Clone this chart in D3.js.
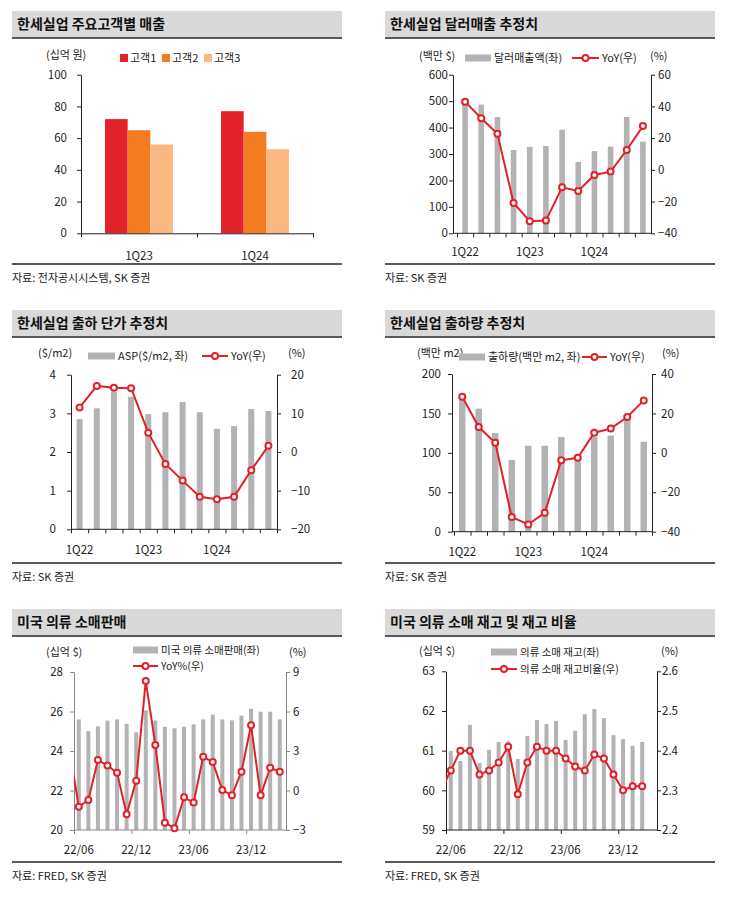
<!DOCTYPE html>
<html>
<head>
<meta charset="utf-8">
<script src="https://cdn.jsdelivr.net/npm/d3@7"></script>
<style>
body { margin: 0; background: #fff; }
svg text { font-family: "Noto Sans CJK KR", "Noto Sans", sans-serif; font-size: 11.5px; fill: #222; }
</style>
</head>
<body>
<script>
// ---- data ----
var clientCats = ["1Q23", "1Q24"];
var clientNames = ["고객1", "고객2", "고객3"];
var client1 = [72, 77];
var client2 = [65, 64];
var client3 = [56, 53];

var quarters = ["1Q22","2Q22","3Q22","4Q22","1Q23","2Q23","3Q23","4Q23","1Q24","2Q24","3Q24","4Q24"];

var dollarSales = [500, 487, 440, 315, 327, 330, 392, 270, 311, 328, 440, 347];
var dollarYoY = [43, 32.5, 22.8, -20.9, -32.4, -32, -11, -13.3, -3.2, -1.1, 12.5, 27.6];

var asp = [2.85, 3.13, 3.56, 3.43, 2.98, 3.03, 3.29, 3.03, 2.60, 2.67, 3.11, 3.06];
var aspYoY = [11.5, 17.1, 16.6, 16.5, 5, -3.1, -7.4, -11.6, -12.2, -11.6, -4.7, 1.6];

var shipments = [171, 156, 125, 91, 109, 109, 120, 90, 120, 122, 145, 114];
var shipYoY = [28.5, 13.1, 5.1, -32.6, -36.3, -30.4, -3.8, -2.5, 10.2, 12.3, 18.2, 26.6];

var months = ["22/06","22/07","22/08","22/09","22/10","22/11","22/12","23/01","23/02","23/03","23/04",
              "23/05","23/06","23/07","23/08","23/09","23/10","23/11","23/12","24/01","24/02","24/03"];

var apparelSales = [25.6, 25.01, 25.25, 25.54, 25.6, 25.38, 24.95, 26.06, 25.54, 25.23, 25.15,
                    25.23, 25.35, 25.6, 25.84, 25.6, 25.55, 25.79, 26.14, 25.99, 25.99, 25.6];
var apparelYoY = [-1.23, -0.72, 2.32, 1.89, 1.35, -1.81, 0.75, 8.32, 3.46, -2.44, -2.87,
                  -0.52, -0.92, 2.57, 2.16, 0.04, -0.37, 1.43, 4.95, -0.37, 1.73, 1.43];
var apparelYoYMay22 = 3.2;

var inventory = [60.99, 60.74, 61.65, 60.69, 61.02, 61.22, 61.24, 60.79, 61.37, 61.77, 61.67,
                 61.75, 61.27, 61.5, 61.92, 62.05, 61.82, 61.39, 61.29, 61.12, 61.22];
var invRatio = [2.35, 2.40, 2.40, 2.34, 2.35, 2.37, 2.41, 2.29, 2.37, 2.41, 2.40,
                2.40, 2.38, 2.36, 2.35, 2.39, 2.38, 2.34, 2.30, 2.31, 2.31];
var invRatioMay22 = 2.30;

var RED = "#e3202a", GREY = "#b3b3b3";
var clientColors = ["#e3232c", "#f37b20", "#fbb880"];

var svg = d3.select("body").append("svg")
    .attr("width", 743)
    .attr("height", 897);

// title bar, rules, source line
function frame(x0, x1, y0, title, source, bottom) {
  svg.append("rect").attr("x", x0).attr("y", y0).attr("width", x1 - x0).attr("height", 26)
    .attr("fill", "#d9d9d9");
  svg.append("text").attr("x", x0 + 5).attr("y", y0 + 13).attr("dy", "0.35em")
    .style("font-size", "14px").style("font-weight", "bold").style("fill", "#111").text(title);
  svg.append("line").attr("x1", x0).attr("x2", x1).attr("y1", y0 + 27).attr("y2", y0 + 27)
    .attr("stroke", "#222").attr("stroke-width", 1.3);
  svg.append("line").attr("x1", x0).attr("x2", x1).attr("y1", bottom).attr("y2", bottom)
    .attr("stroke", "#222").attr("stroke-width", 1.3);
  svg.append("text").attr("x", x0).attr("y", bottom + 14).attr("dy", "0.35em")
    .style("font-size", "11px").text(source);
}

function label(x, y, t, size) {
  svg.append("text").attr("x", x).attr("y", y).attr("dy", "0.35em")
    .style("font-size", (size || 11) + "px").text(t);
}
function legBar(x, y, w, t, size) {
  svg.append("rect").attr("x", x).attr("y", y - 3.5).attr("width", w).attr("height", 7).attr("fill", GREY);
  label(x + w + 3, y, t, size);
}
function legLine(x, y, w, t, size) {
  svg.append("line").attr("x1", x).attr("x2", x + w).attr("y1", y).attr("y2", y)
    .attr("stroke", RED).attr("stroke-width", 2);
  svg.append("circle").attr("cx", x + w / 2).attr("cy", y).attr("r", 3)
    .attr("fill", "#fff").attr("stroke", RED).attr("stroke-width", 2);
  label(x + w + 3, y, t, size);
}

function styleAxis(sel, color) {
  sel.selectAll("path, line").attr("stroke", color);
  sel.selectAll("text").style("fill", "#222");
}

// bar + line combo chart
function combo(o) {
  var g = svg.append("g");
  var n = o.cats.length;
  var x = d3.scaleLinear().domain([0, n]).range([o.x0, o.x1]);
  var yL = d3.scaleLinear().domain(o.domL).range([o.bottom, o.top]);
  var yR = d3.scaleLinear().domain(o.domR).range([o.bottom, o.top]);

  g.selectAll("rect.bar").data(o.bars).join("rect")
    .attr("class", "bar")
    .attr("x", function(d, i) { return x(i + 0.5) - o.bw / 2; })
    .attr("width", o.bw)
    .attr("y", function(d) { return yL(d); })
    .attr("height", function(d) { return o.bottom - yL(d); })
    .attr("fill", GREY);

  var al = g.append("g").attr("transform", "translate(" + o.left + ",0)")
    .call(d3.axisLeft(yL).tickValues(o.ticksL).tickSize(4).tickSizeOuter(0)
      .tickPadding(o.padL).tickFormat(o.fmtL || d3.format("")));
  styleAxis(al, o.axisColor);

  var ar = g.append("g").attr("transform", "translate(" + o.right + ",0)")
    .call(d3.axisRight(yR).tickValues(o.ticksR).tickSize(4).tickSizeOuter(0)
      .tickPadding(o.padR).tickFormat(o.fmtR || d3.format("")));
  styleAxis(ar, o.axisColor);

  var ax = g.append("g").attr("transform", "translate(0," + o.bottom + ")")
    .call(d3.axisBottom(x).tickValues(o.xTicks).tickSize(4).tickSizeOuter(0).tickFormat(""));
  ax.select(".domain").remove();
  ax.append("line").attr("x1", o.left).attr("x2", o.right).attr("stroke", o.axisColor);
  styleAxis(ax, o.axisColor);

  o.cats.forEach(function(c, i) {
    if (o.showLabel(c, i)) {
      g.append("text").attr("x", x(i + 0.5)).attr("y", o.labelY).attr("dy", "0.35em")
        .attr("text-anchor", "middle").text(c);
    }
  });

  var pts = o.line.map(function(v, i) { return { i: i, v: v }; });
  if (o.prev != null) pts.unshift({ i: -1, v: o.prev });
  var clipId = "clip" + Math.round(o.left);
  svg.append("clipPath").attr("id", clipId).append("rect")
    .attr("x", o.left).attr("y", 0).attr("width", o.right - o.left).attr("height", 897);
  g.append("path").datum(pts)
    .attr("clip-path", "url(#" + clipId + ")")
    .attr("fill", "none").attr("stroke", RED).attr("stroke-width", 2)
    .attr("d", d3.line().x(function(d) { return x(d.i + 0.5); }).y(function(d) { return yR(d.v); }));
  g.selectAll("circle.pt").data(pts.filter(function(d) { return d.i >= 0; })).join("circle")
    .attr("class", "pt")
    .attr("cx", function(d) { return x(d.i + 0.5); })
    .attr("cy", function(d) { return yR(d.v); })
    .attr("r", 3)
    .attr("fill", "#fff").attr("stroke", RED).attr("stroke-width", 2);
}

// ---- panel 1 ----
frame(12, 342, 11, "한세실업 주요고객별 매출", "자료: 전자공시시스템, SK 증권", 264);
(function() {
  var left = 81, right = 313, top = 74.7, bottom = 233.3;
  var x0 = d3.scaleBand().domain(clientCats).range([left, right]).paddingInner(0.414).paddingOuter(0.207);
  var x1 = d3.scaleBand().domain([0, 1, 2]).range([0, x0.bandwidth()]);
  var y = d3.scaleLinear().domain([0, 100]).range([bottom, top]);
  var series = [client1, client2, client3];
  var g = svg.append("g");
  series.forEach(function(s, k) {
    g.selectAll("rect.s" + k).data(s).join("rect")
      .attr("x", function(d, i) { return x0(clientCats[i]) + x1(k); })
      .attr("width", x1.bandwidth())
      .attr("y", function(d) { return y(d); })
      .attr("height", function(d) { return bottom - y(d); })
      .attr("fill", clientColors[k]);
  });
  var al = g.append("g").attr("transform", "translate(" + left + ",0)")
    .call(d3.axisLeft(y).tickValues([0, 20, 40, 60, 80, 100]).tickSize(4).tickSizeOuter(0).tickPadding(10));
  styleAxis(al, "#222");
  var xi = d3.scaleLinear().domain([0, 2]).range([left, right]);
  var ax = g.append("g").attr("transform", "translate(0," + bottom + ")")
    .call(d3.axisBottom(xi).tickValues([0, 1, 2]).tickSize(4).tickSizeOuter(0).tickFormat(""));
  styleAxis(ax, "#222");
  clientCats.forEach(function(c) {
    g.append("text").attr("x", x0(c) + x0.bandwidth() / 2).attr("y", 256).attr("dy", "0.35em")
      .attr("text-anchor", "middle").text(c);
  });
  label(46, 55, "(십억 원)");
  var lx = [120, 162, 204];
  clientNames.forEach(function(nm, k) {
    svg.append("rect").attr("x", lx[k]).attr("y", 54).attr("width", 8).attr("height", 8).attr("fill", clientColors[k]);
    label(lx[k] + 10, 58, nm);
  });
})();

// ---- panel 2 ----
frame(385, 715, 11, "한세실업 달러매출 추정치", "자료: SK 증권", 264);
combo({
  cats: quarters, bars: dollarSales, line: dollarYoY,
  left: 453, right: 651, x0: 457, x1: 651, top: 74.7, bottom: 233.3, bw: 5.6,
  domL: [0, 600], ticksL: [0, 100, 200, 300, 400, 500, 600], padL: 1,
  domR: [-40, 60], ticksR: [-40, -20, 0, 20, 40, 60], padR: 3,
  xTicks: d3.range(0, 12), axisColor: "#222", labelY: 252,
  showLabel: function(c) { return c.indexOf("1Q") === 0; }
});
label(419, 56, "(백만 $)");
legBar(465, 58, 26, "달러매출액(좌)");
legLine(572, 58, 27, "YoY(우)");
label(650, 56, "(%)");

// ---- panel 3 ----
frame(12, 342, 310, "한세실업 출하 단가 추정치", "자료: SK 증권", 563);
combo({
  cats: quarters, bars: asp, line: aspYoY,
  left: 71, right: 277, x0: 71, x1: 277, top: 374.7, bottom: 529.3, bw: 6,
  domL: [0, 4], ticksL: [0, 1, 2, 3, 4], padL: 11,
  domR: [-20, 20], ticksR: [-20, -10, 0, 10, 20], padR: 10,
  xTicks: d3.range(0, 13), axisColor: "#222", labelY: 550,
  showLabel: function(c) { return c.indexOf("1Q") === 0; }
});
label(38, 353, "($/m2)");
legBar(88, 356, 27, "ASP($/m2, 좌)");
legLine(202, 356, 26, "YoY(우)");
label(288, 353, "(%)");

// ---- panel 4 ----
frame(385, 715, 310, "한세실업 출하량 추정치", "자료: SK 증권", 563);
combo({
  cats: quarters, bars: shipments, line: shipYoY,
  left: 452, right: 652, x0: 454, x1: 652, top: 374, bottom: 531.7, bw: 6.5,
  domL: [0, 200], ticksL: [0, 50, 100, 150, 200], padL: 7,
  domR: [-40, 40], ticksR: [-40, -20, 0, 20, 40], padR: 5,
  xTicks: d3.range(0, 13), axisColor: "#222", labelY: 552,
  showLabel: function(c) { return c.indexOf("1Q") === 0; }
});
label(417, 353, "(백만 m2)");
legBar(459, 357, 26, "출하량(백만  m2, 좌)");
legLine(582, 357, 25, "YoY(우)");
label(662, 353, "(%)");

// ---- panel 5 ----
frame(12, 342, 609, "미국 의류 소매판매", "자료: FRED, SK 증권", 862);
combo({
  cats: months, bars: apparelSales, line: apparelYoY, prev: apparelYoYMay22,
  left: 74, right: 286, x0: 74, x1: 74 + 22 * 9.57, top: 672, bottom: 830, bw: 4,
  domL: [20, 28], ticksL: [20, 22, 24, 26, 28], padL: 7,
  domR: [-3, 9], ticksR: [-3, 0, 3, 6, 9], padR: 3,
  xTicks: [0, 6, 12, 18], axisColor: "#888", labelY: 850,
  showLabel: function(c, i) { return i % 6 === 0; }
});
label(46, 652, "(십억 $)");
legBar(133, 650, 25, "미국 의류 소매판매(좌)", 10.5);
legLine(133, 666, 25, "YoY%(우)", 10.5);
label(289, 652, "(%)");

// ---- panel 6 ----
frame(385, 715, 609, "미국 의류 소매 재고 및 재고 비율", "자료: FRED, SK 증권", 862);
combo({
  cats: months, bars: inventory, line: invRatio, prev: invRatioMay22,
  left: 446, right: 657, x0: 446, x1: 446 + 22 * 9.57, top: 671.3, bottom: 830, bw: 4,
  domL: [59, 63], ticksL: [59, 60, 61, 62, 63], padL: 7,
  domR: [2.2, 2.6], ticksR: [2.2, 2.3, 2.4, 2.5, 2.6], padR: 1,
  fmtR: d3.format(".1f"),
  xTicks: [0, 6, 12, 18], axisColor: "#222", labelY: 850,
  showLabel: function(c, i) { return i % 6 === 0; }
});
label(419, 651, "(십억 $)");
legBar(491, 652, 26, "의류 소매 재고(좌)", 10.5);
legLine(491, 669, 26, "의류 소매 재고비율(우)", 10.5);
label(661, 651, "(%)");
</script>
</body>
</html>
